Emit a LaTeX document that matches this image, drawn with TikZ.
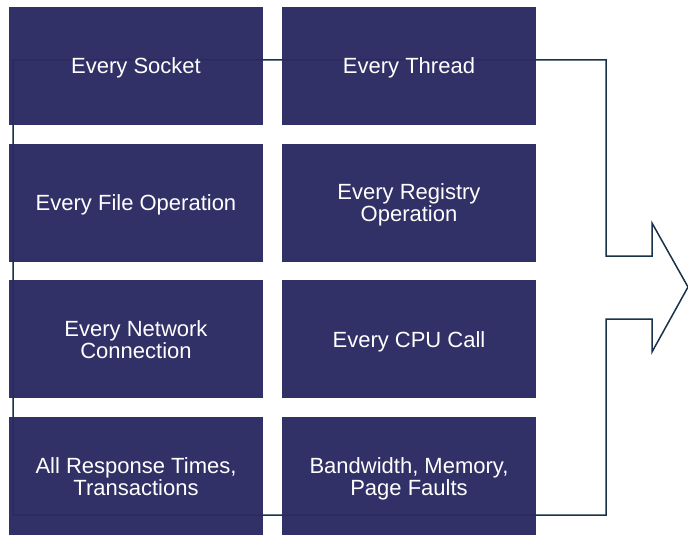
\documentclass[tikz,border=0pt]{standalone}
\usepackage{fontspec}
\setmainfont{Liberation Sans}
\usetikzlibrary{calc}

\definecolor{boxnavy}{RGB}{42,42,98}
\definecolor{framedark}{RGB}{23,50,74}

\begin{document}
\begin{tikzpicture}[x=1pt,y=-1pt]
\useasboundingbox (0,0) rectangle (688,535);
% outline behind the boxes
\draw[framedark,line width=1.5pt,line join=miter]
  (13,60) -- (606,60) -- (606,256) -- (652,256) -- (652,223) -- (688,287)
  -- (652,352) -- (652,319) -- (606,319) -- (606,515) -- (13,515) -- cycle;
\foreach \s [count=\i from 0] in {Every Socket,Every Thread,Every File Operation,
  {Every Registry\\Operation},{Every Network\\Connection},Every CPU Call,
  {All Response Times,\\Transactions},{Bandwidth, Memory,\\Page Faults}} {
  \pgfmathtruncatemacro{\col}{mod(\i,2)}
  \pgfmathtruncatemacro{\row}{int(\i/2)}
  \node[fill=boxnavy,fill opacity=.97,text opacity=1,text=white,inner sep=0pt,
    minimum width=254pt,minimum height=118pt,align=center,
    text depth=0pt,font=\fontsize{22}{22}\selectfont]
    (box\i) at (136+273*\col,66+136.7*\row) {\s};
}
\end{tikzpicture}
\end{document}
